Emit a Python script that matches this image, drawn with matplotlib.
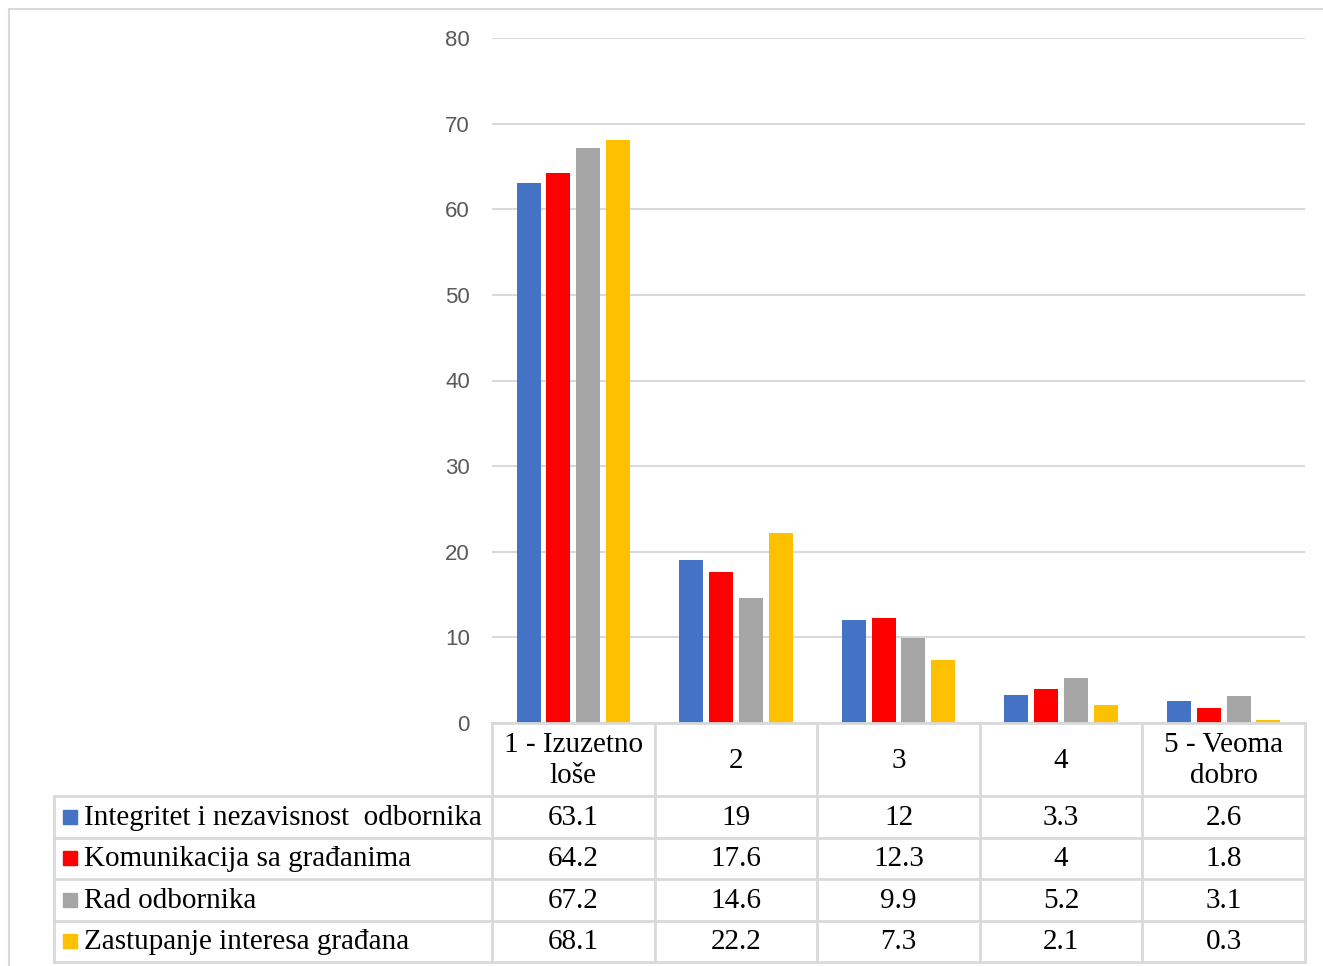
import numpy as np
import matplotlib.pyplot as plt
from matplotlib.patches import Rectangle

categories = ['1 - Izuzetno\nloše', '2', '3', '4', '5 - Veoma\ndobro']
series = ['Integritet i nezavisnost  odbornika', 'Komunikacija sa građanima',
          'Rad odbornika', 'Zastupanje interesa građana']
integritet = [63.1, 19, 12, 3.3, 2.6]
komunikacija = [64.2, 17.6, 12.3, 4, 1.8]
rad = [67.2, 14.6, 9.9, 5.2, 3.1]
zastupanje = [68.1, 22.2, 7.3, 2.1, 0.3]
values = [integritet, komunikacija, rad, zastupanje]
colors = ['#4472C4', '#FF0000', '#A5A5A5', '#FFC000']
yticks = [0, 10, 20, 30, 40, 50, 60, 70, 80]

W, H = 1323, 966
fig = plt.figure(figsize=(W / 100, H / 100), dpi=100)
grid_col = '#D9D9D9'
serif = 'Liberation Serif'
fs = 21

# outer chart border
fig.patches.append(Rectangle((9 / W, -0.01), 1.2, (H - 9) / H + 0.01, transform=fig.transFigure,
                             fill=False, edgecolor=grid_col, linewidth=1.5))

x0, x1, y0, y1 = 492, 1305, 723, 38
ax = fig.add_axes([x0 / W, (H - y0) / H, (x1 - x0) / W, (y0 - y1) / H])
x = np.arange(len(categories))
step, bw = 0.183, 0.148
for j, vals in enumerate(values):
    ax.bar(x + (j - 1.5) * step, vals, width=bw, color=colors[j], zorder=3)
ax.set_xlim(-0.5, len(categories) - 0.5)
ax.set_ylim(0, 80)
ax.set_yticks(yticks)
ax.set_yticklabels([str(t) for t in yticks], fontsize=16, color='#595959', family='Liberation Sans')
ax.tick_params(axis='y', length=0, pad=16)
ax.set_xticks([])
ax.grid(axis='y', color=grid_col, linewidth=1.5, zorder=0)
for s in ax.spines.values():
    s.set_visible(False)

# data table below the plot
tl, tb = 54, 962
header_h = 796 - 723
row_h = (tb - 796) / len(series)
cat_w = (x1 - x0) / len(categories)
tax = fig.add_axes([tl / W, (H - tb) / H, (x1 - tl) / W, (tb - y0) / H])
tax.set_xlim(-0.5 - (x0 - tl) / cat_w, len(categories) - 0.5)
tax.set_ylim(tb - y0, 0)
tax.axis('off')
lw = 2
lx = tax.get_xlim()[0]
# horizontal lines
tax.plot([-0.5, len(categories) - 0.5], [0, 0], color=grid_col, lw=lw, clip_on=False)
for r in range(len(series) + 1):
    yy = header_h + r * row_h
    tax.plot([lx, len(categories) - 0.5], [yy, yy], color=grid_col, lw=lw, clip_on=False)
# vertical lines
for c in range(len(categories) + 1):
    tax.plot([c - 0.5, c - 0.5], [0, tb - y0], color=grid_col, lw=lw, clip_on=False)
tax.plot([lx, lx], [header_h, tb - y0], color=grid_col, lw=lw, clip_on=False)

for i, cat in enumerate(categories):
    tax.text(i, header_h / 2 + 1, cat, ha='center', va='center', fontsize=fs,
             family=serif, linespacing=1.27)
for r, name in enumerate(series):
    yc = header_h + (r + 0.5) * row_h
    tax.add_patch(Rectangle((lx + 9 / cat_w, yc - 7), 14 / cat_w, 14, color=colors[r], clip_on=False))
    tax.text(lx + 30 / cat_w, yc + 1, name, ha='left', va='center', fontsize=fs, family=serif)
    for i, v in enumerate(values[r]):
        tax.text(i, yc + 1, f'{v:g}', ha='center', va='center', fontsize=fs, family=serif)

fig.savefig('out.png', dpi=100)
